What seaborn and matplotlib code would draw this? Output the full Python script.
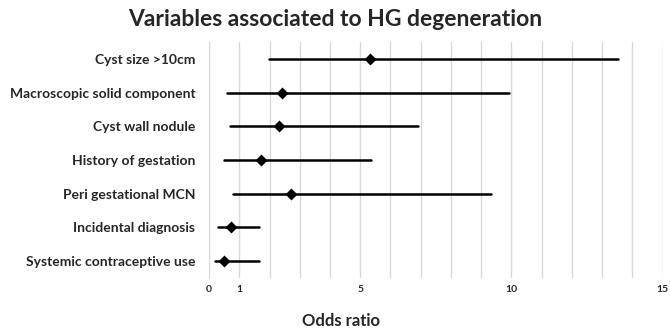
import pandas as pd
import seaborn as sns
import matplotlib.pyplot as plt

# Odds ratios with 95% CI
variables = ['Cyst size >10cm', 'Macroscopic solid component', 'Cyst wall nodule',
             'History of gestation', 'Peri gestational MCN', 'Incidental diagnosis',
             'Systemic contraceptive use']
odds_ratio = [5.31, 2.40, 2.32, 1.71, 2.71, 0.72, 0.51]
ci_low = [1.98, 0.58, 0.69, 0.50, 0.78, 0.29, 0.20]
ci_high = [13.52, 9.92, 6.92, 5.34, 9.33, 1.64, 1.64]

x_ticks = list(range(16))
x_labels = ['0', '1', '', '', '', '5', '', '', '', '', '10', '', '', '', '', '15']

# long table: median of (low, OR, high) is the OR, full range is the CI
rows = []
for v, lo, est, hi in zip(variables, ci_low, odds_ratio, ci_high):
    for val in (lo, est, hi):
        rows.append({'variable': v, 'value': val})
df = pd.DataFrame(rows)

sns.set_style('white')
plt.rcParams['font.family'] = ['Lato', 'DejaVu Sans']

fig = plt.figure(figsize=(6.7, 3.31), dpi=100)
ax = fig.add_axes([0.312, 0.16, 0.677, 0.713])

sns.pointplot(data=df, x='value', y='variable', order=variables,
              estimator='median', errorbar=('pi', 100), orient='h',
              color='black', marker='D', markersize=4.5, linestyle='none',
              err_kws={'linewidth': 1.8}, ax=ax)

ax.set_xlim(0, 15)
ax.set_xticks(x_ticks)
ax.set_xticklabels(x_labels)
ax.grid(axis='x', color='#d9d9d9', linewidth=1)
ax.set_axisbelow(True)

for s in ['top', 'right', 'bottom']:
    ax.spines[s].set_visible(False)
ax.spines['left'].set_color('#d9d9d9')

ax.tick_params(axis='x', length=3, color='#bfbfbf', labelsize=7.5, pad=2)
ax.tick_params(axis='y', length=0, labelsize=10, pad=10)
for lab in ax.get_xticklabels() + ax.get_yticklabels():
    lab.set_fontweight('bold')

ax.set_ylabel('')
ax.set_xlabel('')
fig.text(0.509, 0.03, 'Odds ratio', ha='center', va='center',
         fontsize=12, fontweight='bold')
fig.suptitle('Variables associated to HG degeneration', x=0.5, y=0.94,
             va='center', fontsize=16.5, fontweight='bold')

fig.savefig('out.png', dpi=100)
